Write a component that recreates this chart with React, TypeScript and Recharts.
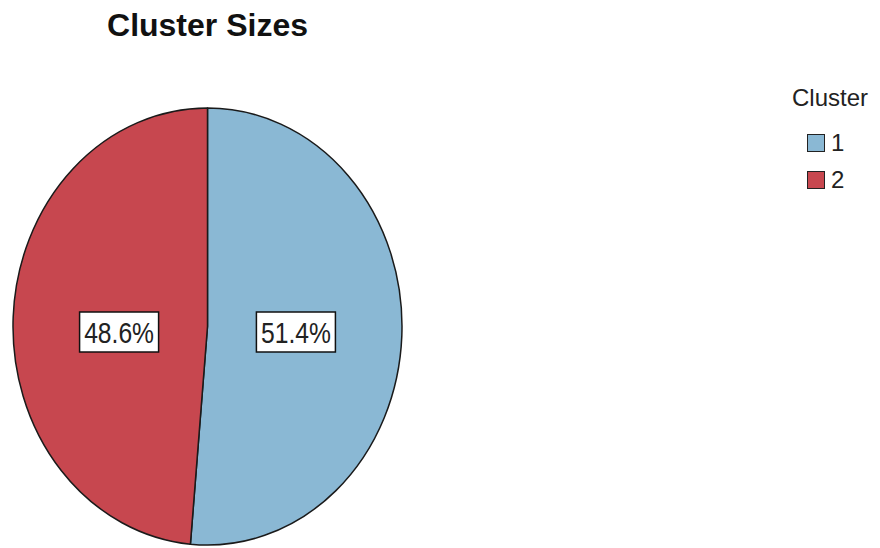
import { PieChart, Pie, Cell, Legend } from "recharts";

const CLUSTERS = ["1", "2"];
const SHARES = [51.4, 48.6];
const COLORS = ["#8ab8d4", "#c7474f"];

const data = CLUSTERS.map((name, i) => ({ name, value: SHARES[i] }));

const RAD = Math.PI / 180;
const Y_STRETCH = 218.5 / 194.5;
const FONT = "'Liberation Sans', Arial, sans-serif";

// pie in the picture is an ellipse, so sectors are drawn stretched vertically
function EllipseSector(props: any) {
  const { cx, cy, outerRadius, startAngle, endAngle, fill } = props;
  const rx = outerRadius;
  const ry = outerRadius * Y_STRETCH;
  const pt = (a: number) => [cx + rx * Math.cos(a * RAD), cy - ry * Math.sin(a * RAD)];
  const [x0, y0] = pt(startAngle);
  const [x1, y1] = pt(endAngle);
  const large = Math.abs(endAngle - startAngle) > 180 ? 1 : 0;
  const sweep = startAngle > endAngle ? 1 : 0;
  const d = `M${cx},${cy} L${x0},${y0} A${rx},${ry} 0 ${large} ${sweep} ${x1},${y1} Z`;
  return <path d={d} fill={fill} stroke="#1a1a1a" strokeWidth={1.5} strokeLinejoin="round" />;
}

// boxed percentage labels sit on one row, slightly below the centre
function BoxLabel(props: any) {
  const { cx, cy, midAngle, outerRadius, percent } = props;
  const r = outerRadius * 0.455;
  const x = cx + r * Math.cos(midAngle * RAD);
  const y = cy + 5.5;
  return (
    <g>
      <rect x={x - 39.5} y={y - 20} width={79} height={40} fill="#fff" stroke="#111" strokeWidth={1.5} />
      {/* squeezed a little, the original label font is condensed */}
      <text
        transform={`translate(${x},${y + 10.5}) scale(0.85,1)`}
        textAnchor="middle"
        fontFamily={FONT}
        fontSize={29}
        fill="#222"
      >
        {(percent * 100).toFixed(1)}%
      </text>
    </g>
  );
}

function ClusterLegend() {
  return (
    <div style={{ fontFamily: FONT, color: "#222" }}>
      <div style={{ fontSize: 24, lineHeight: "24px", marginBottom: 14 }}>Cluster</div>
      {CLUSTERS.map((c, i) => (
        <div key={c} style={{ display: "flex", alignItems: "center", height: 37, marginLeft: 15 }}>
          <span
            style={{
              display: "inline-block",
              width: 16,
              height: 16,
              background: COLORS[i],
              border: "1.5px solid #222",
              marginRight: 6,
            }}
          />
          <span style={{ fontSize: 24, lineHeight: "24px" }}>{c}</span>
        </div>
      ))}
    </div>
  );
}

export default function App() {
  return (
    <div style={{ position: "absolute", left: 0, top: 0, width: 880, height: 548, background: "#fff" }}>
      <div
        style={{
          position: "absolute",
          left: 0,
          top: 9,
          width: 415,
          textAlign: "center",
          fontFamily: FONT,
          fontWeight: "bold",
          fontSize: 32,
          lineHeight: "32px",
          color: "#111",
        }}
      >
        Cluster Sizes
      </div>
      <PieChart width={880} height={548}>
        <Pie
          data={data}
          dataKey="value"
          nameKey="name"
          cx={202.5}
          cy={321.5}
          outerRadius={194.5}
          startAngle={90}
          endAngle={-270}
          shape={EllipseSector}
          label={BoxLabel}
          labelLine={false}
          isAnimationActive={false}
        >
          {data.map((d, i) => (
            <Cell key={d.name} fill={COLORS[i]} />
          ))}
        </Pie>
        <Legend
          content={() => <ClusterLegend />}
          wrapperStyle={{ position: "absolute", left: 792, top: 86, width: 88 }}
        />
      </PieChart>
    </div>
  );
}
